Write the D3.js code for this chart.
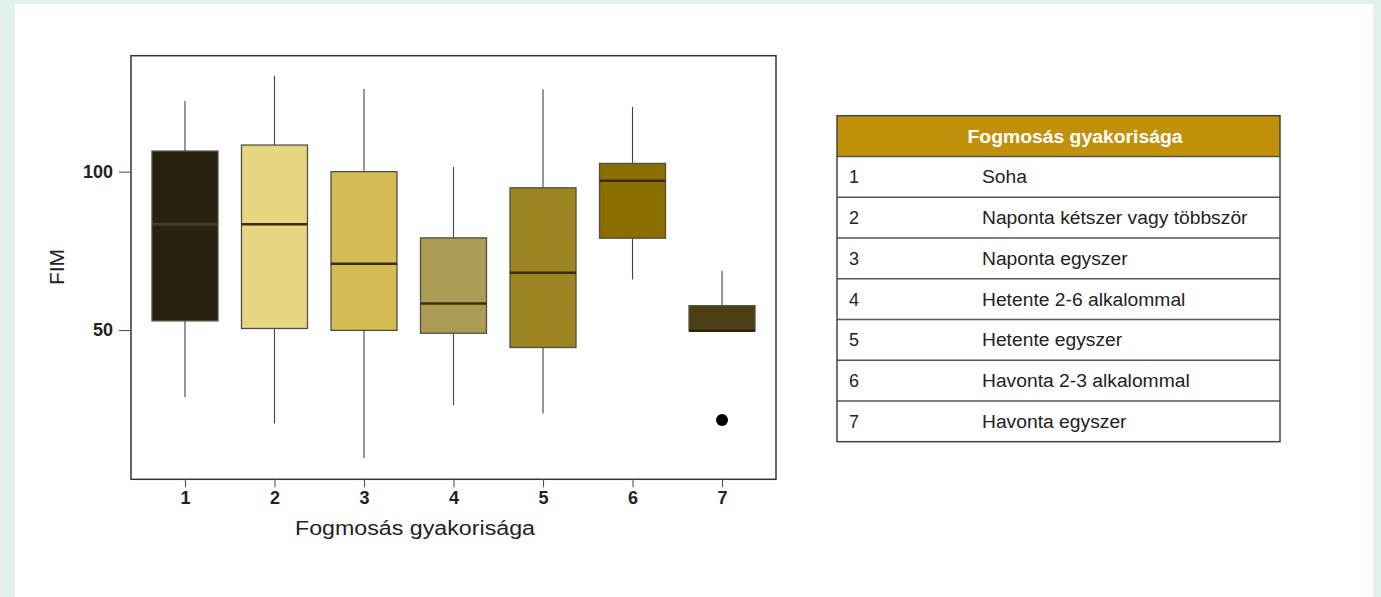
<!DOCTYPE html>
<html><head><meta charset="utf-8">
<script src="https://cdn.jsdelivr.net/npm/d3@7"></script>
<style>
html,body{margin:0;padding:0;background:#e2f0f0;}
svg{display:block;}
</style></head>
<body>
<svg id="chart" width="1381" height="597"></svg>
<script>
const categories = ["1","2","3","4","5","6","7"];
const whiskerLow  = [28.9, 20.5,  9.6, 26.3, 23.7, 66.0, 49.8];
const q1          = [52.9, 50.5, 49.9, 49.0, 44.5, 79.0, 49.8];
const median      = [83.4, 83.4, 70.9, 58.4, 68.1, 97.1, 49.8];
const q3          = [106.5,108.4,100.0, 79.1, 94.9,102.6, 57.7];
const whiskerHigh = [122.3,130.2,126.1,101.5,126.0,120.4, 68.7];
const outliers    = [{cat:"7", value:21.6}];
const yTicks = [50, 100];
const boxColors = ["#2a2210","#e8d582","#d5bc55","#ac9b55","#9d8523","#8b6e00","#4e4016"];
const medianColors = ["#48412c","#3a2c08","#3a2c08","#3a2c08","#3a2c08","#3a2c08","#2e2508"];
const xTitle = "Fogmosás gyakorisága";
const yTitle = "FIM";
const tableHeader = "Fogmosás gyakorisága";
const tableCodes = ["1","2","3","4","5","6","7"];
const tableLabels = ["Soha","Naponta kétszer vagy többször","Naponta egyszer","Hetente 2-6 alkalommal","Hetente egyszer","Havonta 2-3 alkalommal","Havonta egyszer"];

(function(){
const svg = d3.select("#chart");
svg.append("rect").attr("x",15).attr("y",4).attr("width",1358).attr("height",600).attr("fill","#ffffff");

const pLeft=131, pRight=776, pTop=55.7, pBottom=479.3;
const x = d3.scalePoint().domain(categories).range([pLeft,pRight]).padding(0.603);
const y = d3.scaleLinear().domain([2.9,136.6]).range([pBottom,pTop]);
const boxW = 66;

const data = categories.map((c,i)=>({c,lo:whiskerLow[i],q1:q1[i],med:median[i],q3:q3[i],hi:whiskerHigh[i],fill:boxColors[i],mc:medianColors[i]}));

const g = svg.append("g");
g.selectAll(".wh").data(data).enter().append("line")
 .attr("x1",d=>x(d.c)).attr("x2",d=>x(d.c)).attr("y1",d=>y(d.q3)).attr("y2",d=>y(d.hi))
 .attr("stroke","#444").attr("stroke-width",1.1);
g.selectAll(".wl").data(data.filter(d=>d.lo<d.q1)).enter().append("line")
 .attr("x1",d=>x(d.c)).attr("x2",d=>x(d.c)).attr("y1",d=>y(d.q1)).attr("y2",d=>y(d.lo))
 .attr("stroke","#444").attr("stroke-width",1.1);
g.selectAll(".box").data(data).enter().append("rect")
 .attr("x",d=>x(d.c)-boxW/2).attr("width",boxW)
 .attr("y",d=>y(d.q3)).attr("height",d=>y(d.q1)-y(d.q3))
 .attr("fill",d=>d.fill).attr("stroke","#505040").attr("stroke-width",1.3);
g.selectAll(".med").data(data).enter().append("line")
 .attr("x1",d=>x(d.c)-boxW/2).attr("x2",d=>x(d.c)+boxW/2)
 .attr("y1",d=>y(d.med)).attr("y2",d=>y(d.med))
 .attr("stroke",d=>d.mc).attr("stroke-width",2.5);
g.selectAll(".out").data(outliers).enter().append("circle")
 .attr("cx",d=>x(d.cat)).attr("cy",d=>y(d.value)).attr("r",6).attr("fill","#000");

svg.append("rect").attr("x",pLeft).attr("y",pTop).attr("width",pRight-pLeft).attr("height",pBottom-pTop)
 .attr("fill","none").attr("stroke","#333").attr("stroke-width",1.5);

const yAxis = d3.axisLeft(y).tickValues(yTicks).tickSize(12).tickPadding(6);
const ya = svg.append("g").attr("transform",`translate(${pLeft},0)`).call(yAxis);
ya.select(".domain").remove();
ya.selectAll(".tick line").attr("stroke","#555").attr("stroke-width",1.1);
ya.selectAll(".tick text").attr("font-family","Liberation Sans, Arial, sans-serif").attr("font-weight","bold").attr("font-size","18px").attr("fill","#222");

const xAxis = d3.axisBottom(x).tickSize(8).tickPadding(4);
const xa = svg.append("g").attr("transform",`translate(0,${pBottom})`).call(xAxis);
xa.select(".domain").remove();
xa.selectAll(".tick line").attr("stroke","#555").attr("stroke-width",1.1);
xa.selectAll(".tick text").attr("font-family","Liberation Sans, Arial, sans-serif").attr("font-weight","bold").attr("font-size","18px").attr("fill","#222");

svg.append("text").attr("x",415).attr("y",535).attr("text-anchor","middle")
 .attr("font-family","Liberation Sans, Arial, sans-serif").attr("font-size","20px").attr("fill","#222")
 .attr("textLength",240).attr("lengthAdjust","spacingAndGlyphs").text(xTitle);
svg.append("text").attr("transform","translate(64,267) rotate(-90)").attr("text-anchor","middle")
 .attr("font-family","Liberation Sans, Arial, sans-serif").attr("font-size","21px").attr("fill","#222").text(yTitle);

const tx0=837, tx1=1280, ty0=115.7, rh=40.75;
const tg = svg.append("g");
tg.append("rect").attr("x",tx0).attr("y",ty0).attr("width",tx1-tx0).attr("height",rh).attr("fill","#c1910b");
tg.append("text").attr("x",1075).attr("y",ty0+rh/2+6.5).attr("text-anchor","middle")
 .attr("font-family","Liberation Sans, Arial, sans-serif").attr("font-weight","bold").attr("font-size","18px")
 .attr("fill","#fff").attr("textLength",215).attr("lengthAdjust","spacingAndGlyphs").text(tableHeader);
const rows = tableCodes.map((c,i)=>({c,l:tableLabels[i],i}));
tg.selectAll(".rl").data(rows).enter().append("line")
 .attr("x1",tx0).attr("x2",tx1).attr("y1",d=>ty0+rh*(d.i+1)).attr("y2",d=>ty0+rh*(d.i+1))
 .attr("stroke","#555").attr("stroke-width",1.5);
tg.selectAll(".rc").data(rows).enter().append("text")
 .attr("x",849).attr("y",d=>ty0+rh*(d.i+1)+rh/2+6.5)
 .attr("font-family","Liberation Sans, Arial, sans-serif").attr("font-size","18px").attr("fill","#222").text(d=>d.c);
tg.selectAll(".rt").data(rows).enter().append("text")
 .attr("x",982).attr("y",d=>ty0+rh*(d.i+1)+rh/2+6.5)
 .attr("font-family","Liberation Sans, Arial, sans-serif").attr("font-size","18px").attr("fill","#222").text(d=>d.l)
 .each(function(){ const w=this.getComputedTextLength(); d3.select(this).attr("textLength",w*1.07).attr("lengthAdjust","spacingAndGlyphs"); });
tg.append("rect").attr("x",tx0).attr("y",ty0).attr("width",tx1-tx0).attr("height",rh*8)
 .attr("fill","none").attr("stroke","#444").attr("stroke-width",1.5);
})();
</script>
</body></html>
